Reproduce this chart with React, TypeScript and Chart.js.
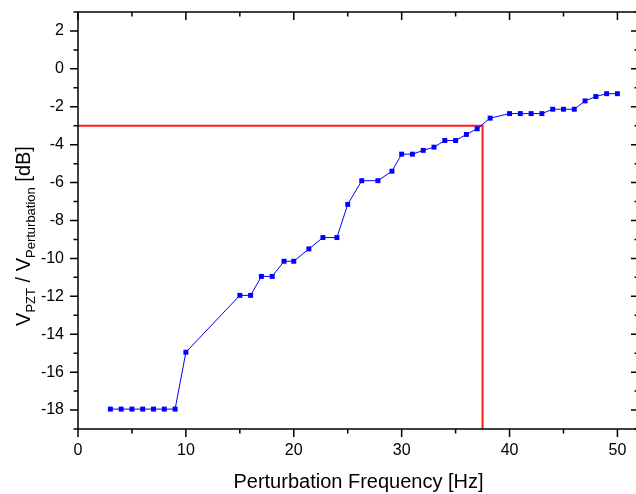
import React, { useEffect, useRef } from "react";
import { Chart, registerables } from "chart.js";

Chart.register(...registerables);

const freqHz = [3, 4, 5, 6, 7, 8, 9, 10, 15, 16, 17, 18, 19.1, 20, 21.4, 22.7, 24, 25, 26.3, 27.8, 29.1, 30, 31, 32, 33, 34, 35, 36, 37, 38.2, 40, 41, 42, 43, 44, 45, 46, 47, 48, 49, 50];
const ratioDb = [-17.95, -17.95, -17.95, -17.95, -17.95, -17.95, -17.95, -14.95, -11.95, -11.95, -10.95, -10.95, -10.15, -10.15, -9.5, -8.9, -8.9, -7.15, -5.9, -5.9, -5.4, -4.5, -4.5, -4.3, -4.13, -3.78, -3.78, -3.46, -3.16, -2.6, -2.36, -2.36, -2.36, -2.36, -2.13, -2.13, -2.13, -1.69, -1.46, -1.31, -1.31];
const markerX = [0, 37.5, 37.5];
const markerY = [-3, -3, -19];
const xTicks = [0, 10, 20, 30, 40, 50];
const xMinorTicks = [5, 15, 25, 35, 45];
const yTicks = [-18, -16, -14, -12, -10, -8, -6, -4, -2, 0, 2];
const yMinorTicks = [-19, -17, -15, -13, -11, -9, -7, -5, -3, -1, 1, 3];

const FONT = '"Liberation Sans", Arial, sans-serif';

const framePlugin = {
  id: "frame",
  afterDraw(chart: any) {
    const ctx = chart.ctx;
    const { left, right, top, bottom } = chart.chartArea;
    const xs = chart.scales.x;
    const ys = chart.scales.y;
    ctx.save();
    ctx.strokeStyle = "#000";
    ctx.lineWidth = 1.5;
    ctx.beginPath();
    ctx.rect(left, top, right - left, bottom - top);
    ctx.stroke();
    const major = 8;
    const minor = 4.5;
    ctx.beginPath();
    const xt = (v: number, len: number) => {
      const px = xs.getPixelForValue(v);
      ctx.moveTo(px, bottom);
      ctx.lineTo(px, bottom + len);
      ctx.moveTo(px, top);
      ctx.lineTo(px, top + len);
    };
    const yt = (v: number, len: number) => {
      const py = ys.getPixelForValue(v);
      ctx.moveTo(left, py);
      ctx.lineTo(left - len, py);
      ctx.moveTo(right, py);
      ctx.lineTo(right - len, py);
    };
    xTicks.forEach((v) => xt(v, major));
    xMinorTicks.forEach((v) => xt(v, minor));
    yTicks.forEach((v) => yt(v, major));
    yMinorTicks.forEach((v) => yt(v, minor));
    ctx.stroke();

    // x title
    ctx.fillStyle = "#000";
    ctx.font = `20px ${FONT}`;
    ctx.textAlign = "center";
    ctx.textBaseline = "alphabetic";
    ctx.fillText("Perturbation Frequency [Hz]", (left + right) / 2, 488);

    // y title with subscripts
    const parts: [string, boolean][] = [
      ["V", false],
      ["PZT", true],
      [" / ", false],
      ["V", false],
      ["Perturbation", true],
      [" [dB]", false],
    ];
    const big = `20px ${FONT}`;
    const small = `13px ${FONT}`;
    let total = 0;
    const widths = parts.map(([t, sub]) => {
      ctx.font = sub ? small : big;
      const w = ctx.measureText(t).width;
      total += w;
      return w;
    });
    ctx.translate(30, 236);
    ctx.rotate(-Math.PI / 2);
    ctx.textAlign = "left";
    let pos = -total / 2;
    parts.forEach(([t, sub], i) => {
      ctx.font = sub ? small : big;
      ctx.fillText(t, pos, sub ? 5 : 0);
      pos += widths[i];
    });
    ctx.restore();
  },
};

export default function App() {
  const ref = useRef<HTMLCanvasElement>(null);
  useEffect(() => {
    if (!ref.current) return;
    const chart = new Chart(ref.current, {
      type: "line",
      data: {
        datasets: [
          {
            data: freqHz.map((x, i) => ({ x, y: ratioDb[i] })),
            borderColor: "#0000ff",
            backgroundColor: "#0000ff",
            borderWidth: 1,
            pointStyle: "rect",
            pointRadius: 3.5,
            pointBorderWidth: 0,
            pointBackgroundColor: "#0000ff",
            tension: 0,
            fill: false,
            order: 0,
          },
          {
            data: markerX.map((x, i) => ({ x, y: markerY[i] })),
            borderColor: "#ff1a1a",
            borderWidth: 2,
            pointRadius: 0,
            tension: 0,
            fill: false,
            order: 1,
          },
        ],
      },
      options: {
        animation: false,
        responsive: false,
        devicePixelRatio: 1,
        layout: { padding: { top: 12, right: 5, left: 0, bottom: 0 } },
        plugins: { legend: { display: false }, tooltip: { enabled: false } },
        scales: {
          x: {
            type: "linear",
            min: 0,
            max: 52,
            grid: { display: false, drawTicks: false },
            border: { display: false },
            afterBuildTicks: (s: any) => {
              s.ticks = xTicks.map((v) => ({ value: v }));
            },
            afterFit: (s: any) => {
              s.height = 65;
              s.paddingLeft = 0;
              s.paddingRight = 0;
            },
            ticks: {
              color: "#000",
              font: { family: FONT, size: 16 },
              padding: 12,
              maxRotation: 0,
              autoSkip: false,
              callback: (v: any) => String(v),
            },
          },
          y: {
            type: "linear",
            min: -19,
            max: 3,
            grid: { display: false, drawTicks: false },
            border: { display: false },
            afterBuildTicks: (s: any) => {
              s.ticks = yTicks.map((v) => ({ value: v }));
            },
            afterFit: (s: any) => {
              s.width = 78;
              s.paddingTop = 0;
              s.paddingBottom = 0;
            },
            ticks: {
              color: "#000",
              font: { family: FONT, size: 16 },
              padding: 14,
              autoSkip: false,
              callback: (v: any) => String(v),
            },
          },
        },
      },
      plugins: [framePlugin],
    } as any);
    return () => chart.destroy();
  }, []);
  return (
    <div style={{ position: "fixed", left: 0, top: 0, width: 636, height: 494, overflow: "hidden", background: "#fff" }}>
      <canvas ref={ref} width={644} height={494} style={{ width: 644, height: 494, display: "block" }} />
    </div>
  );
}
